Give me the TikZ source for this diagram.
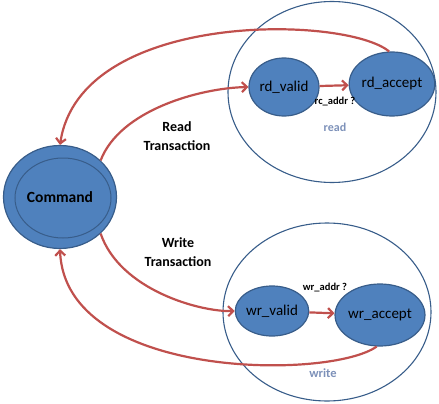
\documentclass[tikz,border=0pt]{standalone}
\usepackage{fontspec}
\setmainfont{Carlito}
\usetikzlibrary{arrows.meta,shapes.geometric}
\definecolor{stateblue}{RGB}{79,129,189}
\definecolor{edgeblue}{RGB}{56,93,138}
\definecolor{flowred}{RGB}{192,80,77}
\definecolor{tagblue}{RGB}{125,145,185}

\begin{document}
\begin{tikzpicture}[x=1pt,y=-1pt,
    state/.style={ellipse,fill=stateblue,draw=edgeblue,line width=1.2pt,inner sep=0pt,
      font=\fontsize{15}{18}\selectfont},
    group/.style={ellipse,draw=edgeblue,line width=1.1pt,inner sep=0pt},
    flow/.style={flowred,line width=2.2pt,-{Straight Barb[length=5pt,width=10pt]}}]
  \useasboundingbox (0,0) rectangle (439,404);
  % read / write groups
  \node[group,minimum width=208pt,minimum height=181pt] (readgrp) at (332,92) {};
  \node[group,minimum width=208pt,minimum height=178pt] (writegrp) at (327,312) {};
  \node[font=\fontsize{12}{14}\selectfont\bfseries,text=tagblue] (readtag) at (335,127) {read};
  \node[font=\fontsize{12.5}{14}\selectfont\bfseries,text=tagblue] (writetag) at (323,373) {write};
  % command state with its inner ring
  \node[state,minimum width=113pt,minimum height=103pt] (command) at (60,197) {};
  \node[ellipse,draw=edgeblue,line width=1pt,minimum width=96pt,minimum height=80pt,
    font=\fontsize{15.5}{18}\selectfont\bfseries] (cmdring) at (63,198) {};
  \node[font=\fontsize{15.5}{18}\selectfont\bfseries] (cmdtext) at (60,197) {Command};
  % transaction states
  \node[state,minimum width=70pt,minimum height=58pt] (rdvalid) at (284,87) {rd\_valid};
  \node[state,minimum width=78pt,minimum height=64pt] (rdaccept) at (392,84) {rd\_accept};
  \node[state,minimum width=70pt,minimum height=50pt] (wrvalid) at (272,311) {wr\_valid};
  \node[state,minimum width=82pt,minimum height=62pt] (wraccept) at (380,315) {wr\_accept};
  % transitions
  \draw[flow] (rdvalid) -- (rdaccept);
  \draw[flow] (wrvalid) -- (wraccept);
  \draw[flow] (command.42) .. controls (120,110) and (200,88) .. (rdvalid.west);
  \draw[flow] (command.-42) .. controls (120,290) and (200,312) .. (wrvalid.west);
  \draw[flow] (rdaccept.95) .. controls (345,15) and (80,10) .. (command.north);
  \draw[flow] (wraccept.-96) .. controls (330,380) and (65,380) .. (command.south);
  % guards and labels
  \node[font=\fontsize{10.5}{12}\selectfont\bfseries] (rdguard) at (335,102) {rc\_addr ?};
  \node[font=\fontsize{10.5}{12}\selectfont\bfseries] (wrguard) at (325,288) {wr\_addr ?};
  \node[font=\fontsize{14}{19}\selectfont\bfseries,align=center] (readlbl) at (177,136) {Read\\Transaction};
  \node[font=\fontsize{14}{19}\selectfont\bfseries,align=center] (writelbl) at (178,252) {Write\\Transaction};
\end{tikzpicture}
\end{document}
